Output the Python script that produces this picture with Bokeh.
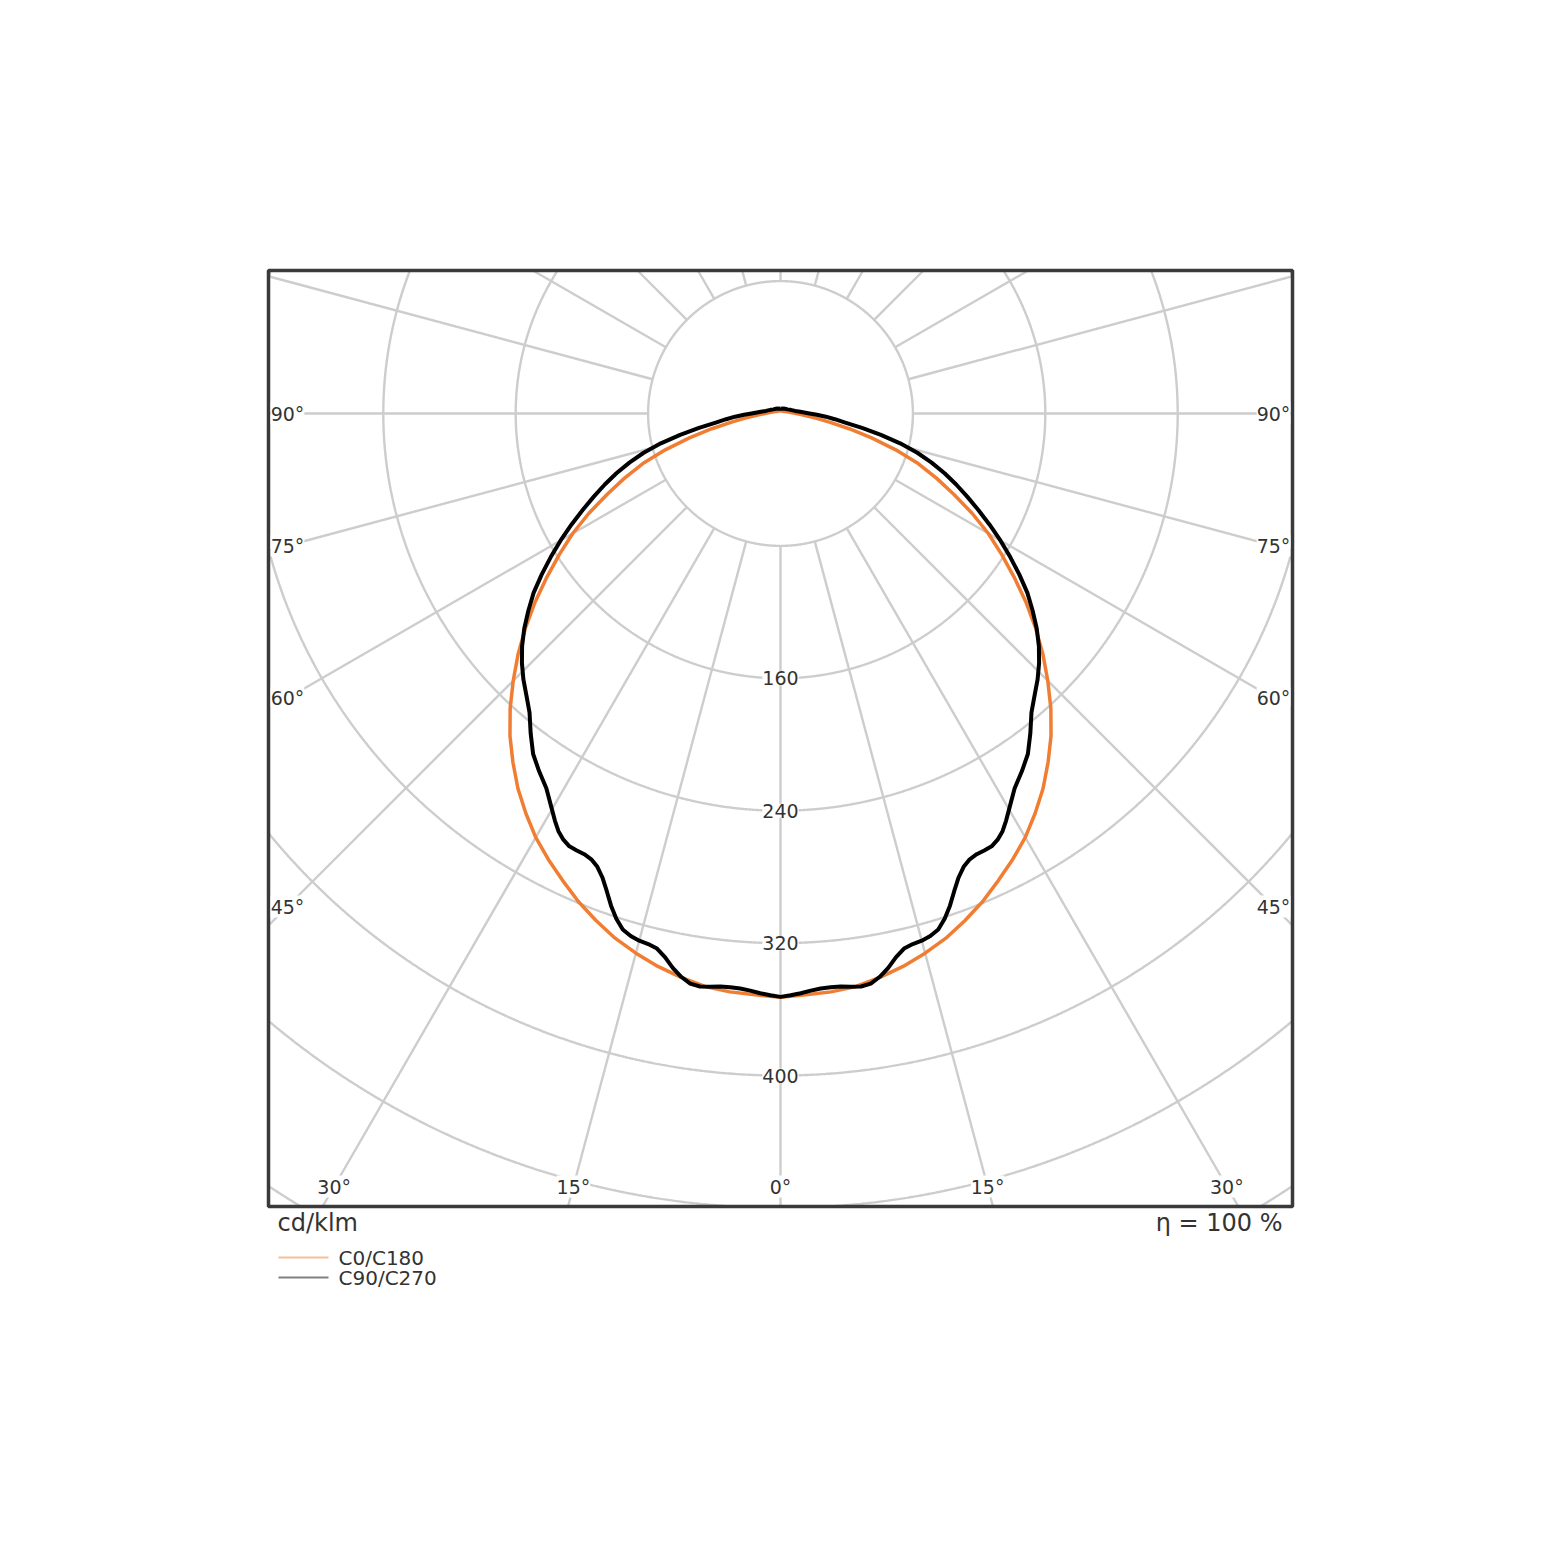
import math
from bokeh.plotting import figure
from bokeh.models import Range1d, Label
from bokeh.embed import file_html
from bokeh.resources import INLINE

# ---------------- data ----------------
ring_values = [80, 160, 240, 320, 400, 480, 560]          # cd/klm grid circles
ring_labels = ["160", "240", "320", "400"]                 # labelled circles
spoke_angles = list(range(0, 360, 15))                     # degrees from nadir
angle_ticks = [0, 15, 30, 45, 60, 75, 90]
angle_tick_labels = ["0°", "15°", "30°", "45°", "60°", "75°", "90°"]

series_names = ["C0/C180", "C90/C270"]
unit_label = "cd/klm"
efficiency_label = "η = 100 %"

# C0/C180 (orange)
c0_angles = [0, 2.5, 5, 7.5, 10, 12.5, 15, 17.5, 20, 22.5, 25, 27.5, 30, 32.5, 35, 37.5,
             40, 42.5, 45, 47.5, 50, 52.5, 55, 57.5, 60, 62.5, 65, 67.5, 70, 72.5, 75,
             77.5, 80, 82.5, 85, 87.5, 90, 100, 110, 120, 135, 150, 180]
c0_values = [352.7, 351.6, 350.8, 349.2, 346.0, 342.2, 337.6, 332.4, 326.0, 319.2, 311.4,
             303.8, 295.8, 286.4, 276.6, 265.6, 254.3, 241.8, 228.4, 215.0, 201.0, 186.8,
             172.3, 158.4, 145.0, 130.5, 115.5, 102.0, 88.5, 73.0, 57.0, 42.5, 30.0, 21.5,
             15.0, 11.8, 9.5, 5.0, 3.5, 2.5, 2.0, 1.8, 1.5]

# C90/C270 (black)
c90_angles = [0, 1, 2, 3, 4, 5, 6, 7, 8, 9, 10, 11, 12, 13, 14, 15, 16, 17, 18, 19, 20,
              21, 22, 23, 24, 25, 26, 27, 28, 29, 30, 32, 34, 36, 38, 40, 42, 44, 46, 48,
              50, 52, 54, 56, 58, 60, 62, 64, 66, 68, 70, 72, 74, 76, 78, 80, 82, 84, 86,
              88, 90, 95, 100, 110, 120, 135, 150, 165, 180]
c90_values = [352.5, 351.6, 350.5, 349.2, 348.3, 348.0, 348.1, 349.0, 349.6, 348.8, 345.6,
              341.2, 335.8, 331.8, 330.4, 329.8, 328.4, 326.0, 321.0, 314.5, 307.0,
              300.3, 295.4, 292.6, 291.5, 291.3, 291.0, 289.0, 285.8, 281.2, 276.2,
              267.0, 260.8, 254.3, 245.2, 235.9, 229.4, 223.6, 217.2, 210.1,
              202.1, 193.3, 184.4, 174.1, 163.7, 153.4, 143.1, 133.0, 123.5, 114.5,
              105.5, 96.0, 86.0, 74.5, 62.0, 50.0, 39.5, 33.0, 27.5,
              22.0, 17.5, 12.0, 9.0, 6.5, 5.0, 4.0, 3.5, 3.0, 3.0]

# ---------------- layout / style ----------------
W, H = 1544, 1544
S = 1.655                      # px per cd/klm
CX, CY = 780, 413              # polar centre (canvas px)
BOX_L, BOX_T, BOX_R, BOX_B = 268, 270, 1292, 1206
GRID = "#cdcdcd"
ORANGE = "#f07d32"
TXT = "#333333"
FONT = "DejaVu Sans"


def X(px):
    return (px - CX) / S


def Y(py):
    return (CY - py) / S


p = figure(width=W, height=H,
           x_range=Range1d(X(0), X(W)), y_range=Range1d(Y(H), Y(0)),
           x_axis_type=None, y_axis_type=None,
           toolbar_location=None, output_backend="svg",
           min_border=0, outline_line_color=None)
p.background_fill_color = "white"
p.border_fill_color = "white"
p.xgrid.visible = False
p.ygrid.visible = False

# grid limited to the chart box (slightly expanded, hidden under the box line)
gx0, gx1 = X(BOX_L - 2), X(BOX_R + 2)
gy0, gy1 = Y(BOX_B + 2), Y(BOX_T - 2)


def inside(x, y):
    return gx0 <= x <= gx1 and gy0 <= y <= gy1


ring_xs, ring_ys = [], []
for r in ring_values:
    cur_x, cur_y = [], []
    n = 2880
    for k in range(n + 1):
        phi = 2 * math.pi * k / n
        x, y = r * math.cos(phi), r * math.sin(phi)
        if inside(x, y):
            cur_x.append(x)
            cur_y.append(y)
        elif cur_x:
            ring_xs.append(cur_x)
            ring_ys.append(cur_y)
            cur_x, cur_y = [], []
    if cur_x:
        ring_xs.append(cur_x)
        ring_ys.append(cur_y)
p.multi_line(xs=ring_xs, ys=ring_ys, line_color=GRID, line_width=2.4)

# spokes from the first ring out to the box edge
sx0, sy0, sx1, sy1 = [], [], [], []
for a in spoke_angles:
    dx, dy = math.sin(math.radians(a)), -math.cos(math.radians(a))
    ts = []
    if dx > 1e-9:
        ts.append(gx1 / dx)
    if dx < -1e-9:
        ts.append(gx0 / dx)
    if dy > 1e-9:
        ts.append(gy1 / dy)
    if dy < -1e-9:
        ts.append(gy0 / dy)
    t = min(ts)
    r0 = ring_values[0]
    if t > r0:
        sx0.append(r0 * dx)
        sy0.append(r0 * dy)
        sx1.append(t * dx)
        sy1.append(t * dy)
p.segment(x0=sx0, y0=sy0, x1=sx1, y1=sy1, line_color=GRID, line_width=2.4)


def polar_curve(angles, values):
    right_x = [v * math.sin(math.radians(a)) for a, v in zip(angles, values)]
    right_y = [-v * math.cos(math.radians(a)) for a, v in zip(angles, values)]
    left_x = [-x for x in reversed(right_x)]
    left_y = list(reversed(right_y))
    return left_x + right_x[1:], left_y + right_y[1:]


xo, yo = polar_curve(c0_angles, c0_values)
xb, yb = polar_curve(c90_angles, c90_values)
p.line(xo, yo, line_color=ORANGE, line_width=3.5, line_join="round")
p.line(xb, yb, line_color="black", line_width=4, line_join="round")

# white masks outside the chart box (overlapping strips)
p.quad(left=[X(0), X(BOX_R), X(0), X(0)],
       right=[X(BOX_L), X(W), X(W), X(W)],
       top=[Y(0), Y(0), Y(0), Y(BOX_B)],
       bottom=[Y(H), Y(H), Y(BOX_T), Y(H)],
       fill_color="white", line_color=None)

# chart box
p.quad(left=[X(BOX_L)], right=[X(BOX_R)], top=[Y(BOX_T)], bottom=[Y(BOX_B)],
       fill_color=None, line_color="#3a3a3a", line_width=3.5)

# legend lines
p.segment(x0=[X(278), X(278)], y0=[Y(1257), Y(1277)],
          x1=[X(328), X(328)], y1=[Y(1257), Y(1277)],
          line_color=[ORANGE, "black"], line_alpha=0.5, line_width=2)


def add_label(x, y, text, size="19px", align="center", baseline="middle", bg=True):
    kw = dict(x=x, y=y, text=text, text_align=align, text_baseline=baseline,
              text_font=FONT, text_font_size=size, text_color=TXT)
    if bg:
        kw["background_fill_color"] = "white"
    p.add_layout(Label(**kw))


# ring labels on the 0° spoke
for lab in ring_labels:
    add_label(0, -float(lab), lab)

# angle labels along the inset frame
xi = (BOX_R - 19 - CX) / S
yi = (BOX_B - 20 - CY) / S
for a, lab in zip(angle_ticks, angle_tick_labels):
    s_, c_ = math.sin(math.radians(a)), math.cos(math.radians(a))
    t = min(xi / s_ if s_ > 1e-9 else 1e9, yi / c_ if c_ > 1e-9 else 1e9)
    if a == 0:
        add_label(0, -t * c_, lab)
    else:
        add_label(t * s_, -t * c_, lab)
        add_label(-t * s_, -t * c_, lab)

# texts below the box
add_label(X(277), Y(1222.5), unit_label, size="24px", align="left", bg=False)
add_label(X(1282), Y(1222.5), efficiency_label, size="24px", align="right", bg=False)
add_label(X(338), Y(1257), series_names[0], size="20px", align="left", bg=False)
add_label(X(338), Y(1277), series_names[1], size="20px", align="left", bg=False)

open("out.html", "w").write(file_html(p, INLINE))
